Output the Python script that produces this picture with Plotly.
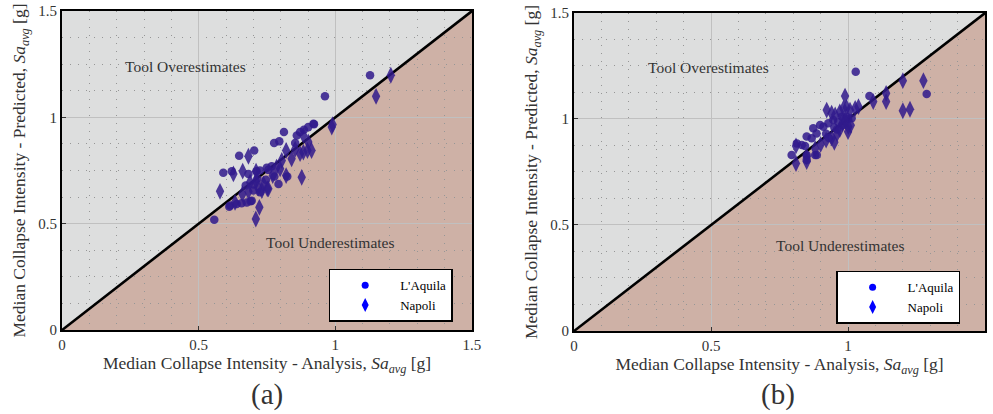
import plotly.graph_objects as go

# Axis extent shared by both panels (g)
AXIS_MAX = 1.5
TICKS = [0, 0.5, 1, 1.5]
TICK_TEXT = ["0", "0.5", "1", "1.5"]

# Panel (a): analysis vs predicted median collapse intensity
a_laquila_x = [0.557, 0.590, 0.621, 0.648, 0.703, 0.682, 0.712, 0.724, 0.749, 0.767,
               0.776, 0.795, 0.812, 0.853, 0.859, 0.871, 0.885, 0.901, 0.922, 0.962,
               1.127, 0.792, 0.824, 0.777, 0.615, 0.639, 0.657, 0.676, 0.694, 0.612,
               0.690, 0.700, 0.746, 0.715, 0.724, 0.700, 0.672, 0.755, 0.920]
a_laquila_y = [0.519, 0.740, 0.747, 0.819, 0.844, 0.734, 0.747, 0.750, 0.763, 0.770,
               0.879, 0.887, 0.931, 0.879, 0.915, 0.931, 0.942, 0.954, 0.967, 1.099,
               1.198, 0.687, 0.722, 0.722, 0.585, 0.593, 0.596, 0.600, 0.608, 0.580,
               0.605, 0.684, 0.706, 0.711, 0.648, 0.656, 0.680, 0.753, 0.970]
a_napoli_x = [0.578, 0.627, 0.661, 0.682, 0.710, 0.820, 0.883, 0.901, 0.840, 0.871,
              0.883, 0.898, 0.913, 0.804, 0.785, 0.798, 0.820, 0.877, 0.771, 0.688,
              0.718, 0.731, 0.755, 0.682, 0.737, 0.751, 0.633, 0.722, 0.709, 0.987,
              0.990, 1.149, 1.203, 0.853, 0.660, 0.710]
a_napoli_y = [0.652, 0.734, 0.747, 0.817, 0.747, 0.844, 0.915, 0.884, 0.805, 0.829,
              0.836, 0.844, 0.844, 0.797, 0.766, 0.758, 0.726, 0.718, 0.726, 0.695,
              0.668, 0.656, 0.664, 0.651, 0.687, 0.664, 0.600, 0.577, 0.522, 0.954,
              0.966, 1.099, 1.198, 0.850, 0.640, 0.700]

# Panel (b)
b_laquila_x = [1.028, 1.078, 1.287, 0.898, 0.910, 0.928, 0.946, 0.977, 0.995, 1.013,
               0.873, 0.885, 0.849, 0.867, 0.813, 0.831, 0.843, 0.794, 0.849, 0.880,
               0.886, 0.849, 0.920, 0.950, 0.960, 0.930, 0.980, 1.000, 0.965]
b_laquila_y = [1.223, 1.108, 1.118, 0.972, 0.964, 0.980, 0.995, 1.011, 1.011, 1.003,
               0.956, 0.932, 0.917, 0.909, 0.885, 0.877, 0.873, 0.830, 0.830, 0.830,
               0.830, 0.807, 0.930, 0.960, 0.950, 0.910, 0.970, 1.000, 0.985]
b_napoli_x = [0.989, 0.922, 0.940, 0.953, 0.970, 0.983, 0.995, 1.007, 1.026, 1.038,
              1.092, 1.139, 1.139, 1.200, 1.275, 1.200, 1.226, 0.810, 0.810, 0.849,
              0.849, 1.001, 1.000, 0.920, 0.940, 0.960, 0.970, 0.980, 0.950, 0.900,
              0.880, 0.990, 1.010]
b_napoli_y = [1.108, 1.042, 1.027, 1.019, 1.034, 1.050, 1.054, 1.042, 1.050, 1.058,
              1.082, 1.121, 1.082, 1.181, 1.181, 1.039, 1.046, 0.790, 0.873, 0.822,
              0.799, 0.964, 0.940, 0.900, 0.910, 0.930, 0.950, 0.980, 0.890, 0.880,
              0.860, 0.990, 0.970]

FONT = "Liberation Serif, Times New Roman, Times, DejaVu Serif, serif"
TEXT_COLOR = "#333333"
OVER_BG = "rgb(221,222,222)"
UNDER_BG = "rgb(206,177,166)"
POINT_COLOR = "rgba(48,26,140,0.85)"
LEGEND_BLUE = "#0000ff"

fig = go.Figure()

panels = [
    ("x", "y", "legend", a_laquila_x, a_laquila_y, a_napoli_x, a_napoli_y),
    ("x2", "y2", "legend2", b_laquila_x, b_laquila_y, b_napoli_x, b_napoli_y),
]

for xa, ya, leg, lx, ly, nx, ny in panels:
    # 1:1 reference line across the full axis range
    fig.add_trace(go.Scatter(x=[0, AXIS_MAX], y=[0, AXIS_MAX], mode="lines",
                             line=dict(color="black", width=2.6),
                             xaxis=xa, yaxis=ya, showlegend=False, hoverinfo="skip"))
    fig.add_trace(go.Scatter(x=lx, y=ly, mode="markers", name="L'Aquila",
                             marker=dict(symbol="circle", size=8.5, color=POINT_COLOR,
                                         line=dict(width=0)),
                             xaxis=xa, yaxis=ya, showlegend=False))
    fig.add_trace(go.Scatter(x=nx, y=ny, mode="markers", name="Napoli",
                             marker=dict(symbol="diamond-tall", size=12, color=POINT_COLOR,
                                         line=dict(width=0)),
                             xaxis=xa, yaxis=ya, showlegend=False))
    # legend entries drawn in pure blue
    fig.add_trace(go.Scatter(x=[None], y=[None], mode="markers", name="L'Aquila",
                             marker=dict(symbol="circle", size=7, color=LEGEND_BLUE),
                             xaxis=xa, yaxis=ya, legend=leg))
    fig.add_trace(go.Scatter(x=[None], y=[None], mode="markers", name="Napoli",
                             marker=dict(symbol="diamond-tall", size=10, color=LEGEND_BLUE),
                             xaxis=xa, yaxis=ya, legend=leg))

    # shaded region below the 1:1 line
    fig.add_shape(type="path",
                  path=f"M 0,0 L {AXIS_MAX},0 L {AXIS_MAX},{AXIS_MAX} Z",
                  xref=xa, yref=ya, fillcolor=UNDER_BG, line=dict(width=0),
                  layer="below")

x_title = "Median Collapse Intensity - Analysis, <i>Sa</i><sub><i>avg</i></sub> [g]"
y_title = "Median Collapse Intensity - Predicted, <i>Sa</i><sub><i>avg</i></sub> [g]"


def axis(domain, title, anchor, minor_dtick, standoff):
    return dict(
        domain=domain, anchor=anchor, range=[0, AXIS_MAX], automargin=False,
        tickvals=TICKS, ticktext=TICK_TEXT,
        tickfont=dict(family=FONT, size=15, color=TEXT_COLOR),
        title=dict(text=title, standoff=standoff,
                   font=dict(family=FONT, size=17.5, color=TEXT_COLOR)),
        showline=True, mirror=True, linecolor="black", linewidth=2,
        ticks="inside", ticklen=4, tickcolor="#333333",
        showgrid=True, gridcolor="rgb(192,192,192)", gridwidth=1,
        zeroline=False,
        minor=dict(dtick=minor_dtick, showgrid=True, gridcolor="rgb(150,150,150)",
                   griddash="1px,7px", gridwidth=1, ticks=""),
    )


fig.update_layout(
    xaxis=axis([0.0625, 0.4753], x_title, "y", 0.1, 0),
    yaxis=axis([0.2029, 0.9734], y_title, "x", 0.125, 8),
    xaxis2=axis([0.5781, 0.9920], x_title, "y2", 0.1, 0),
    yaxis2=axis([0.2005, 0.9686], y_title, "x2", 0.125, 8),
)

legend_style = dict(
    bgcolor="white", bordercolor="black", borderwidth=1.5,
    font=dict(family=FONT, size=13, color="black"),
    xanchor="left", yanchor="middle", itemwidth=60,
    tracegroupgap=0,
)

annotations = []
for xr, yr, ox, oy, ux, uy in [("x", "y", 0.45, 1.24, 0.98, 0.41),
                               ("x2", "y2", 0.49, 1.245, 0.97, 0.405)]:
    annotations.append(dict(x=ox, y=oy, xref=xr, yref=yr, text="Tool Overestimates",
                            showarrow=False, xanchor="center", yanchor="middle",
                            font=dict(family=FONT, size=15.5, color=TEXT_COLOR)))
    annotations.append(dict(x=ux, y=uy, xref=xr, yref=yr, text="Tool Underestimates",
                            showarrow=False, xanchor="center", yanchor="middle",
                            font=dict(family=FONT, size=15.5, color=TEXT_COLOR)))
for px, label in [(0.269, "(a)"), (0.783, "(b)")]:
    annotations.append(dict(x=px, y=0.046, xref="paper", yref="paper", text=label,
                            showarrow=False, xanchor="center", yanchor="middle",
                            font=dict(family=FONT, size=29, color=TEXT_COLOR)))

fig.update_layout(
    width=993, height=414,
    margin=dict(l=0, r=0, t=0, b=0),
    paper_bgcolor="white", plot_bgcolor=OVER_BG,
    legend=dict(x=0.331, y=0.287, **legend_style),
    legend2=dict(x=0.842, y=0.282, **legend_style),
    annotations=annotations,
    showlegend=True,
)

fig.write_html("out.html")
